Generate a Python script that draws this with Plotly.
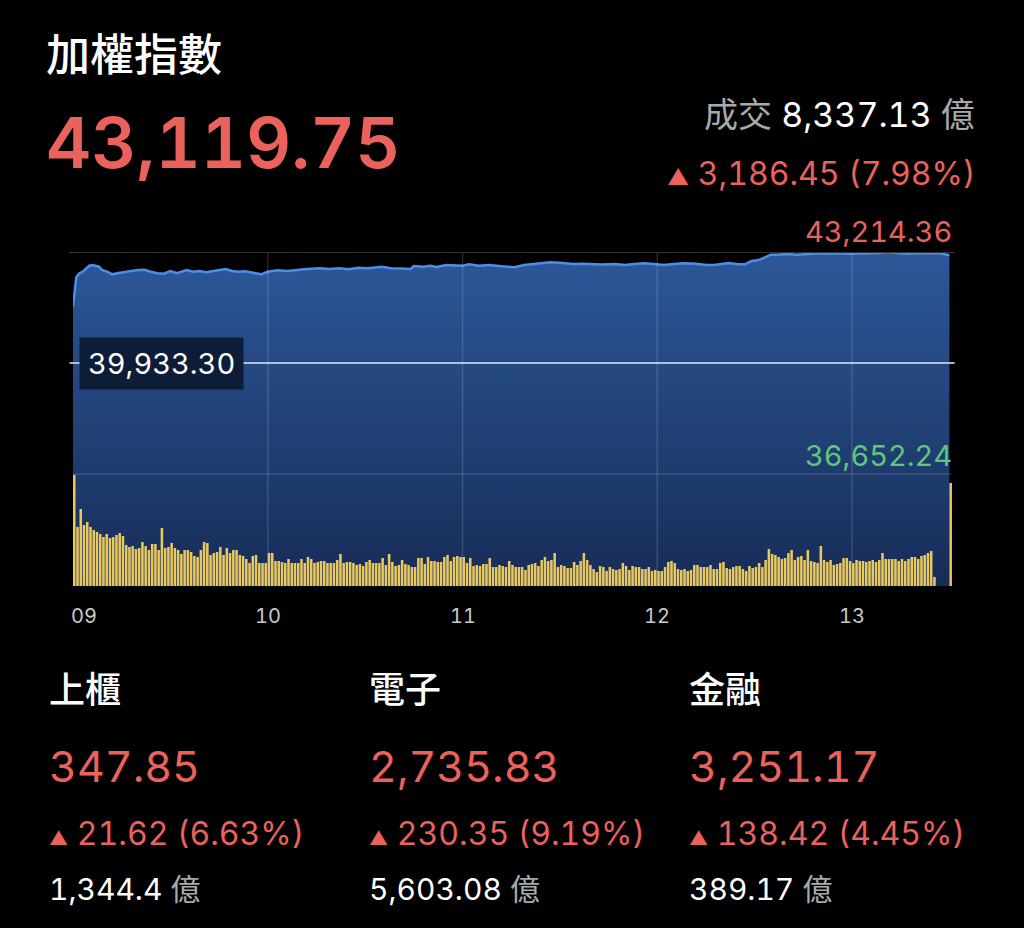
import plotly.graph_objects as go

# ---- data ----
prev_close = 39933.30

# minutes after 09:00 and index level
price_min = [0, 1, 2, 3, 5, 6, 8, 9, 11, 12, 14, 16, 18, 20, 22, 24, 26, 28, 30, 32,
             35, 37, 39, 41, 43, 45, 47, 49, 51, 53, 55, 57, 58, 60, 63, 66, 69, 72, 76, 79,
             82, 85, 88, 91, 95, 98, 101, 104, 105, 108, 110, 112, 115, 118, 120, 122, 125, 128, 131, 134,
             136, 139, 142, 145, 147, 150, 154, 157, 160, 163, 167, 170, 173, 176, 179, 182, 185, 188, 192, 195,
             198, 202, 205, 207, 209, 211, 213, 215, 217, 220, 223, 227, 230, 233, 236, 239, 242, 245, 248, 251,
             254, 257, 260, 264, 267, 270]
price = [41598, 42466, 42585, 42632, 42809, 42830, 42780, 42682, 42614, 42555, 42594, 42632, 42653, 42682, 42690, 42632, 42585, 42573, 42653, 42585,
         42682, 42632, 42653, 42614, 42653, 42673, 42712, 42653, 42632, 42644, 42614, 42585, 42555, 42632, 42673, 42653, 42691, 42712, 42732, 42712,
         42732, 42703, 42750, 42732, 42780, 42732, 42728, 42712, 42800, 42780, 42809, 42771, 42830, 42826, 42809, 42851, 42809, 42830, 42809, 42771,
         42762, 42830, 42860, 42868, 42910, 42898, 42860, 42868, 42851, 42848, 42860, 42830, 42860, 42880, 42860, 42830, 42860, 42880, 42868, 42830,
         42839, 42889, 42851, 42851, 42948, 42969, 43046, 43134, 43134, 43155, 43134, 43164, 43176, 43164, 43176, 43164, 43160, 43176, 43185, 43214.36,
         43185, 43164, 43176, 43164, 43176, 43119.75]

# per-minute volume (09:00 .. 13:25) and the 13:30 closing auction
volume = [111, 59, 77, 61, 64, 59, 56, 54, 52, 49, 52, 48, 49, 51, 53, 50, 41, 39, 40, 37,
          38, 44, 40, 36, 42, 42, 36, 58, 38, 39, 43, 38, 36, 32, 36, 36, 34, 30, 29, 36,
          44, 43, 31, 33, 34, 39, 31, 38, 33, 36, 36, 31, 30, 27,
          23, 30, 31, 23, 23, 23, 33, 33, 25, 25, 24, 23, 27, 23, 23, 23, 27, 23, 29, 27,
          23, 24, 25, 25, 23, 23, 23, 26, 32, 23, 24, 24, 23, 21, 22, 20, 24, 26, 23, 23,
          23, 28, 21, 32, 24, 20, 21, 26, 22, 21, 19, 19, 28, 28, 22,
          29, 25, 25, 24, 24, 29, 31, 25, 29, 30, 29, 29, 23, 28, 20, 21, 20, 22, 22, 28,
          19, 19, 21, 20, 19, 25, 21, 19, 19, 19, 16, 21, 22, 23, 20, 26, 29, 25, 26, 33,
          19, 21, 20, 18, 18, 24, 21, 25, 33, 26, 21, 17, 14, 20,
          19, 15, 19, 17, 16, 17, 23, 20, 16, 20, 19, 19, 17, 17, 19, 15, 16, 15, 15, 19,
          24, 25, 23, 17, 16, 17, 15, 16, 21, 21, 19, 19, 19, 21, 17, 17, 23, 24, 18, 17,
          19, 20, 20, 17, 15, 20, 18, 19, 23, 19, 26, 37, 32,
          31, 29, 27, 28, 33, 36, 26, 29, 30, 26, 36, 25, 24, 23, 40, 26, 24, 26, 21, 22,
          23, 28, 28, 25, 23, 26, 25, 25, 24, 25, 26, 24, 26, 33, 27, 27, 27, 27, 25, 27,
          25, 27, 29, 29, 27, 30, 31, 33, 35, 9,
          103]
vol_min = list(range(len(volume) - 1)) + [270]

hour_min = [0, 60, 120, 180, 240]
hour_text = ['09', '10', '11', '12', '13']

sub_names = ['上櫃', '電子', '金融']
sub_values = ['347.85', '2,735.83', '3,251.17']
sub_changes = ['21.62 (6.63%)', '230.35 (9.19%)', '138.42 (4.45%)']
sub_turnover = ['1,344.4', '5,603.08', '389.17']

RED = '#eb625c'
GREEN = '#5dc77d'
GRAY = '#a9a9a9'
FONT = "Inter, 'Noto Sans CJK TC'"

# ---- geometry ----
W, H = 1024, 928
L, R, T, B = 73, 72, 252, 342


def px(x):
    return (x - L) / (W - L - R)


def py(y):
    return (H - B - y) / (H - T - B)


hi = max(price)
lo = prev_close - (hi - prev_close)
y_bottom = lo - (hi - lo) * 112 / 222
x_right = 270.8

fig = go.Figure()

fig.add_trace(go.Scatter(
    x=price_min, y=price, mode='lines', fill='tozeroy',
    line=dict(color='#4d8fe8', width=2.5),
    fillgradient=dict(type='vertical', colorscale=[[0, '#172c57'], [1, '#2c5899']],
                      start=y_bottom, stop=hi),
    hoverinfo='skip'))

# grid lines drawn over the fill but under the volume bars
gx, gy = [], []
for m in hour_min[1:]:
    gx += [m, m, None]
    gy += [y_bottom, hi, None]
gx += [0, x_right]
gy += [lo, lo]
fig.add_trace(go.Scatter(x=gx, y=gy, mode='lines',
                         line=dict(color='rgba(255,255,255,0.14)', width=1.5),
                         hoverinfo='skip'))

fig.add_trace(go.Bar(x=vol_min, y=volume, yaxis='y2', width=0.78, offset=0,
                     marker=dict(color='#e9c95f', line=dict(width=0)),
                     hoverinfo='skip'))

shapes = [
    dict(type='line', xref='paper', yref='y', x0=-0.004, x1=1.003, y0=hi, y1=hi,
         line=dict(color='#333333', width=2), layer='above'),
    dict(type='line', xref='paper', yref='y', x0=-0.004, x1=1.003, y0=prev_close, y1=prev_close,
         line=dict(color='rgba(215,222,232,0.8)', width=2), layer='above'),
]

ann = []


def text(x, y, s, size, color='white', anchor='left', weight=400, **kw):
    ann.append(dict(x=px(x), y=py(y), xref='paper', yref='paper', text=s, showarrow=False,
                    xanchor=anchor, yanchor='middle',
                    font=dict(family=FONT, size=size, color=color, weight=weight), **kw))


text(44, 55, '加權指數', 44, weight=500)
text(44, 143, '43,119.75', 70, RED, weight=600)
text(977, 115, f"成交 <span style='color:#ffffff'>8,337.13</span> 億", 34, GRAY, anchor='right')
text(977, 173, "<span style='font-size:22px'>▲</span> 3,186.45 (7.98%)", 32, RED, anchor='right')
text(954, 231, f'{hi:,.2f}', 29, RED, anchor='right')
text(954, 455, f'{lo:,.2f}', 29, GREEN, anchor='right')

ann.append(dict(x=px(79), y=prev_close, xref='paper', yref='y', text=f'{prev_close:,.2f}',
                showarrow=False, xanchor='left', yanchor='middle', bgcolor='#0e1d37',
                borderpad=8, font=dict(family=FONT, size=29, color='white')))

for m, t in zip(hour_min, hour_text):
    ann.append(dict(x=m, y=0, xref='x', yref='paper', text=t, showarrow=False,
                    xanchor='left' if m == 0 else 'center', xshift=-4 if m == 0 else 0,
                    yanchor='top', yshift=-16,
                    font=dict(family=FONT, size=20, color='#c9c9c9')))

for i, xc in enumerate([47, 367, 687]):
    text(xc, 690, sub_names[i], 36, weight=500)
    text(xc, 766, sub_values[i], 43, RED)
    text(xc, 833, f"<span style='font-size:19px'>▲</span> {sub_changes[i]}", 32, RED)
    text(xc, 889, f"{sub_turnover[i]} <span style='color:{GRAY}'>億</span>", 30)

fig.update_layout(
    width=W, height=H,
    margin=dict(l=L, r=R, t=T, b=B),
    paper_bgcolor='black', plot_bgcolor='black',
    showlegend=False,
    xaxis=dict(range=[0, x_right], visible=False),
    yaxis=dict(range=[y_bottom, hi], visible=False),
    yaxis2=dict(range=[0, 334], overlaying='y', visible=False),
    shapes=shapes, annotations=ann,
)

# no page margin; tabular figures like the app font (also in plotly's hidden text tester).
# The annotations are redrawn with a slightly different family string so their boxes
# get measured again with the new figures.
post = """
document.body.style.margin = '0';
document.body.style.background = 'black';
var st = document.createElement('style');
st.textContent = 'text, tspan { font-feature-settings: "tnum" 1; }';
document.head.appendChild(st);
var gd = document.getElementById('{plot_id}');
var anns = gd.layout.annotations.map(function (a) {
    var b = Object.assign({}, a);
    b.font = Object.assign({}, a.font, {family: a.font.family + ', sans-serif'});
    return b;
});
Plotly.relayout(gd, {annotations: anns});
"""

fig.write_html("out.html", config={'displayModeBar': False}, post_script=post)
